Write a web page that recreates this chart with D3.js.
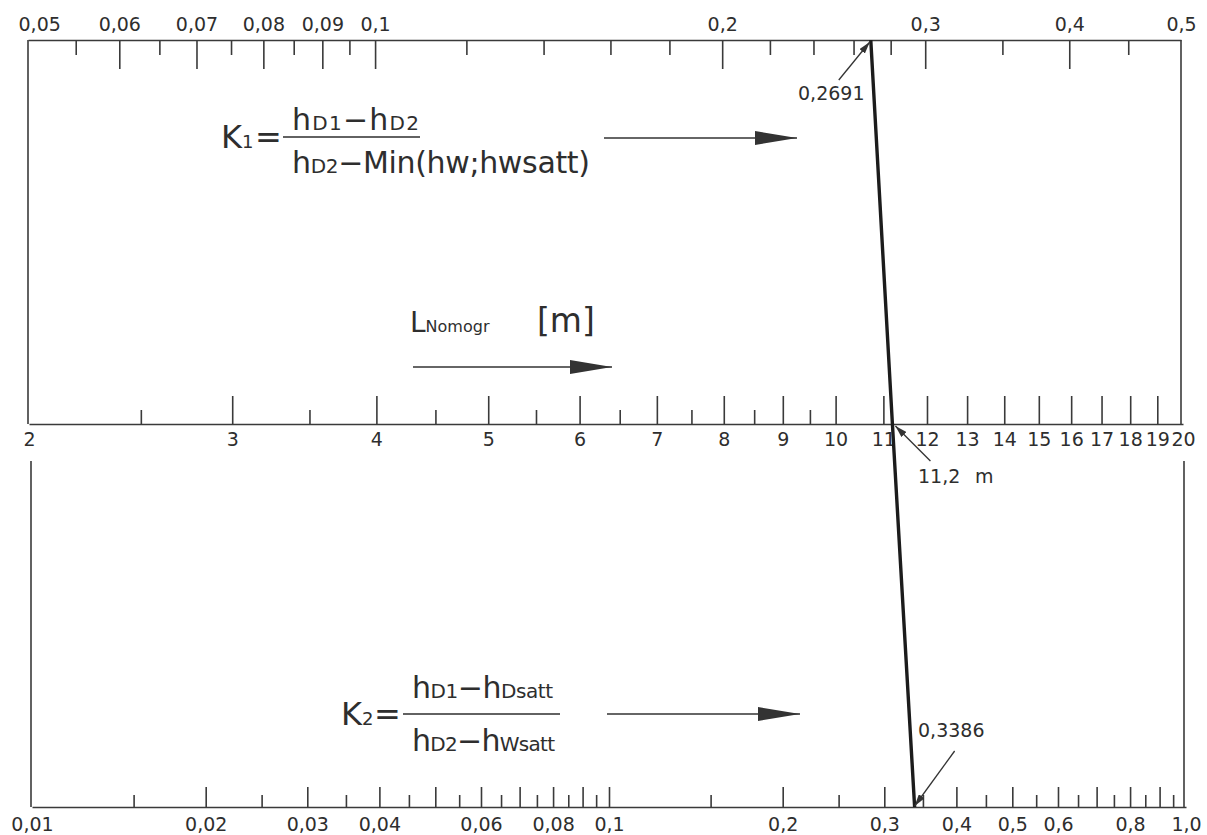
<!DOCTYPE html>
<html>
 <head>
  <meta charset="utf-8">
  <title>Nomogramm</title>
  <style>
  body { margin: 0; background: #fff; }
  svg { display: block; font-family: "DejaVu Sans", sans-serif; }
  .axis path, .axis line { stroke: #3a3a3a; stroke-width: 1.6; }
  .axis text { fill: #2e2e2e; font-size: 19px; font-family: "DejaVu Sans", sans-serif; }
  .frame { stroke: #3a3a3a; stroke-width: 1.6; }
  .lbl { fill: #2e2e2e; }
  </style>
 </head>
 <body>
  <script src="https://cdnjs.cloudflare.com/ajax/libs/d3/7.8.5/d3.min.js"></script>
  <script>
   // K1 scale (top)
   const k1Labels = [0.05, 0.06, 0.07, 0.08, 0.09, 0.1, 0.2, 0.3, 0.4, 0.5];
   const k1Major = [0.06, 0.07, 0.08, 0.09, 0.1, 0.2, 0.3, 0.4];
   const k1Minor = [0.055, 0.065, 0.075, 0.085, 0.095, 0.12, 0.14, 0.16, 0.18, 0.22, 0.24, 0.26, 0.28, 0.35, 0.45];
   // L Nomogr scale (middle)
   const lLabels = [2, 3, 4, 5, 6, 7, 8, 9, 10, 11, 12, 13, 14, 15, 16, 17, 18, 19, 20];
   const lMajor = [3, 4, 5, 6, 7, 8, 9, 10, 11, 12, 13, 14, 15, 16, 17, 18, 19];
   const lMinor = [2.5, 3.5, 4.5, 5.5, 6.5, 7.5, 8.5, 9.5];
   // K2 scale (bottom)
   const k2Labels = [0.01, 0.02, 0.03, 0.04, 0.06, 0.08, 0.1, 0.2, 0.3, 0.4, 0.5, 0.6, 0.8, 1.0];
   const k2Major = [0.02, 0.03, 0.04, 0.05, 0.06, 0.07, 0.08, 0.09, 0.1, 0.2, 0.3, 0.4, 0.5, 0.6, 0.7, 0.8, 0.9];
   const k2Minor = [0.015, 0.025, 0.035, 0.045, 0.055, 0.065, 0.075, 0.085, 0.095, 0.15, 0.25, 0.35, 0.45, 0.55, 0.65, 0.75, 0.85, 0.95];
   // reading
   const k1Value = 0.2691;
   const lValue = 11.2;
   const k2Value = 0.3386;

   const w = 1207;
   const h = 835;
   const yTop = 40, yMid = 424, yBot = 807;
   const ink = "#2e2e2e";

   const fmt = d => (d === 1 ? "1.0" : String(d)).replace(".", ",");

   const xK1 = d3.scaleLog().domain([0.05, 0.5]).range([28, 1181]);
   const xL = d3.scaleLog().domain([2, 20]).range([29, 1183]);
   const xK2 = d3.scaleLog().domain([0.01, 1]).range([32, 1186]);

   const svg = d3.select("body").append("svg")
                 .attr("width", w)
                 .attr("height", h);

   const defs = svg.append("defs");
   defs.append("marker")
       .attr("id", "big")
       .attr("viewBox", "0 -7 42 14")
       .attr("refX", 42).attr("refY", 0)
       .attr("markerWidth", 42).attr("markerHeight", 14)
       .attr("markerUnits", "userSpaceOnUse")
       .attr("orient", "auto")
       .append("path").attr("d", "M0,-7L42,0L0,7Z").attr("fill", "#333");
   defs.append("marker")
       .attr("id", "small")
       .attr("viewBox", "0 -3.5 12 7")
       .attr("refX", 12).attr("refY", 0)
       .attr("markerWidth", 12).attr("markerHeight", 7)
       .attr("markerUnits", "userSpaceOnUse")
       .attr("orient", "auto")
       .append("path").attr("d", "M0,-3.5L12,0L0,3.5Z").attr("fill", "#333");

   // helper: one ticked axis (major, minor, labels)
   function logAxis(scale, y, major, minor, labels, majLen, minLen, up, labelAbove, pad) {
    const tickAxis = up ? d3.axisTop : d3.axisBottom;
    svg.append("g").attr("class", "axis")
       .attr("transform", "translate(0," + y + ")")
       .call(tickAxis(scale).tickValues(major).tickSize(majLen).tickSizeOuter(0).tickFormat(""));
    svg.append("g").attr("class", "axis")
       .attr("transform", "translate(0," + y + ")")
       .call(tickAxis(scale).tickValues(minor).tickSize(minLen).tickSizeOuter(0).tickFormat(""))
       .select(".domain").remove();
    const lab = svg.append("g").attr("class", "axis")
       .attr("transform", "translate(0," + y + ")")
       .call((labelAbove ? d3.axisTop : d3.axisBottom)(scale).tickValues(labels).tickSize(0).tickPadding(pad).tickFormat(fmt));
    lab.attr("font-size", null).attr("font-family", null);
    lab.select(".domain").remove();
    lab.selectAll("line").remove();
    return lab;
   }

   const topLab = logAxis(xK1, yTop, k1Major, k1Minor, k1Labels, 29, 15, false, true, 9);
   topLab.selectAll("text").filter(d => d === 0.05).attr("text-anchor", "start").attr("dx", -10);
   logAxis(xL, yMid, lMajor, lMinor, lLabels, 28, 14, true, false, 9);
   logAxis(xK2, yBot, k2Major, k2Minor, k2Labels, 20, 12, true, false, 11);

   // frame verticals
   [xK1.range()[0], xK1.range()[1]].forEach(x => {
    svg.append("line").attr("class", "frame")
       .attr("x1", x).attr("x2", x).attr("y1", yTop).attr("y2", yMid);
   });
   [xK2.range()[0] - 1, xK2.range()[1] - 2].forEach(x => {
    svg.append("line").attr("class", "frame")
       .attr("x1", x).attr("x2", x).attr("y1", yMid + 37).attr("y2", yBot);
   });

   // formulas
   function formula(x, y, parts, len) {
    const t = svg.append("text").attr("class", "lbl")
                 .attr("x", x).attr("y", y);
    if (len) t.attr("textLength", len).attr("lengthAdjust", "spacing");
    parts.forEach(p => t.append("tspan").attr("font-size", p[1]).text(p[0]));
    return t;
   }
   const big = 30, sm = 20;

   // K1
   const bar1 = 137;
   formula(221, bar1 + 11, [["K", 32], ["1", 18]]);
   formula(255, bar1 + 11, [["=", 32]]);
   svg.append("line").attr("x1", 283).attr("x2", 420).attr("y1", bar1).attr("y2", bar1)
      .attr("stroke", ink).attr("stroke-width", 1.5);
   formula(292, bar1 - 7, [["h", big], ["D1", sm], ["\u2212", big], ["h", big], ["D2", sm]], 127);
   formula(292, bar1 + 36, [["h", big], ["D2", sm], ["\u2212Min(hw;hwsatt)", big]], 298);
   svg.append("line").attr("x1", 604).attr("x2", 797).attr("y1", bar1 + 1).attr("y2", bar1 + 1)
      .attr("stroke", "#333").attr("stroke-width", 1.6).attr("marker-end", "url(#big)");

   // L label
   formula(410, 332, [["L", 28], ["Nomogr", 16]]);
   formula(537, 332, [["[m]", 33]]);
   svg.append("line").attr("x1", 413).attr("x2", 612).attr("y1", 367).attr("y2", 367)
      .attr("stroke", "#333").attr("stroke-width", 1.6).attr("marker-end", "url(#big)");

   // K2
   const bar2 = 714;
   formula(341, bar2 + 11, [["K", 32], ["2", 18]]);
   formula(374, bar2 + 11, [["=", 32]]);
   svg.append("line").attr("x1", 403).attr("x2", 560).attr("y1", bar2).attr("y2", bar2)
      .attr("stroke", ink).attr("stroke-width", 1.5);
   formula(412, bar2 - 16, [["h", big], ["D1", sm], ["\u2212", big], ["h", big], ["Dsatt", sm]], 141);
   formula(412, bar2 + 37, [["h", big], ["D2", sm], ["\u2212", big], ["h", big], ["Wsatt", sm]], 143);
   svg.append("line").attr("x1", 607).attr("x2", 800).attr("y1", bar2).attr("y2", bar2)
      .attr("stroke", "#333").attr("stroke-width", 1.6).attr("marker-end", "url(#big)");

   // nomogram reading line
   const pts = [[xK1(k1Value), yTop], [xL(lValue), yMid], [xK2(k2Value), yBot]];
   svg.append("path")
      .attr("d", d3.line()(pts))
      .attr("fill", "none")
      .attr("stroke", "#1c1c1c")
      .attr("stroke-width", 3.4);

   // callouts
   function callout(tip, dx, dy, text, tx, ty) {
    svg.append("line")
       .attr("x1", tip[0] + dx).attr("y1", tip[1] + dy)
       .attr("x2", tip[0]).attr("y2", tip[1])
       .attr("stroke", "#333").attr("stroke-width", 1.3).attr("marker-end", "url(#small)");
    svg.append("text").attr("class", "lbl").attr("font-size", 19)
       .attr("x", tx).attr("y", ty).text(text);
   }
   callout([xK1(k1Value) - 1, yTop + 2], -31, 38, "0,2691", 798, 100);
   callout([xL(lValue) + 3, yMid + 2], 35, 35, "11,2", 918, 483);
   svg.append("text").attr("class", "lbl").attr("font-size", 19).attr("x", 975).attr("y", 483).text("m");
   callout([xK2(k2Value), yBot - 1], 40, -55, "0,3386", 918, 737);
  </script>
 </body>
</html>
